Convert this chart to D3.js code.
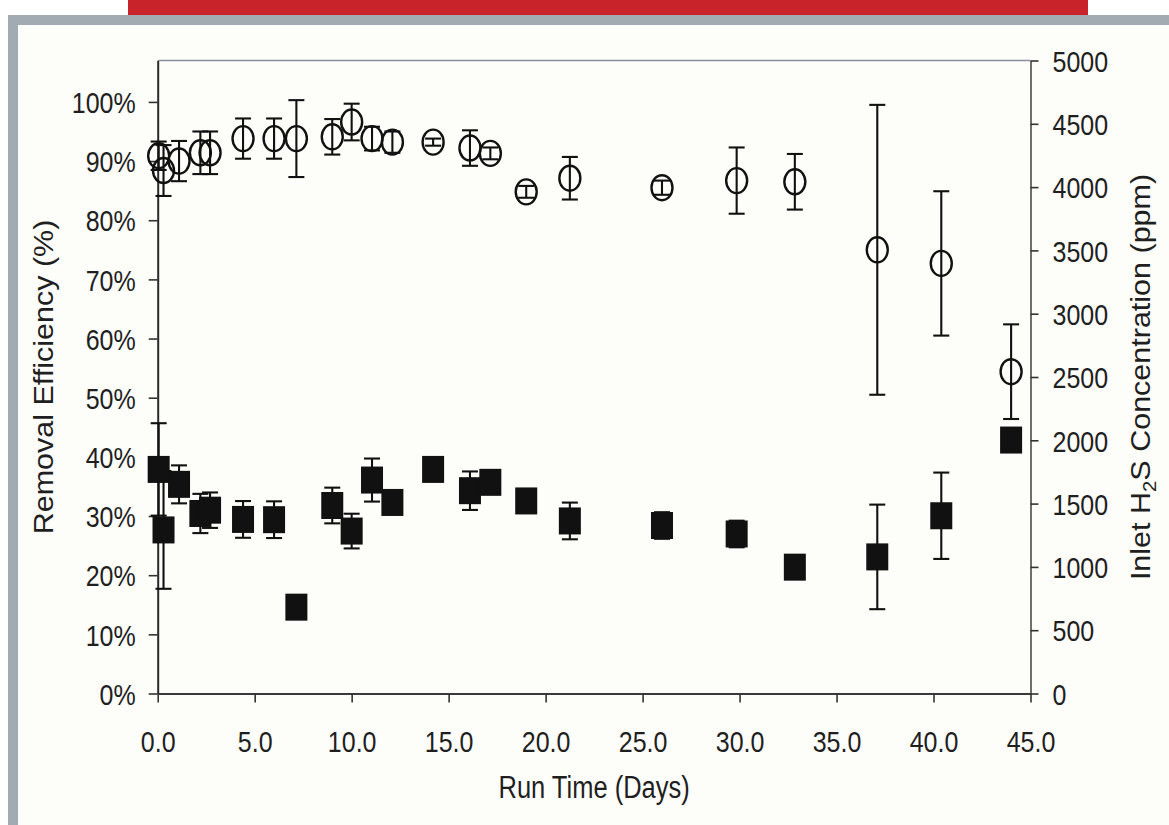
<!DOCTYPE html>
<html><head><meta charset="utf-8">
<script src="https://cdn.jsdelivr.net/npm/d3@7"></script>
<style>
html,body{margin:0;padding:0;background:#fff;}
svg{display:block;}
</style></head>
<body>
<svg id="chart" width="1169" height="825"></svg>
<script>
// ---- data ----
const days = [0.05, 0.3, 1.1, 2.2, 2.7, 4.4, 6.0, 7.15, 9.0, 10.0, 11.05, 12.1, 14.2, 16.1, 17.15, 19.0, 21.25, 26.0, 29.85, 32.85, 37.1, 40.4, 44.0];
const efficiency = [90.9, 88.4, 90.0, 91.4, 91.4, 93.8, 93.8, 93.8, 94.1, 96.6, 93.8, 93.2, 93.2, 92.2, 91.3, 84.8, 87.1, 85.5, 86.7, 86.5, 75.0, 72.7, 54.4];
const efficiencyErr = [2.4, 4.3, 3.4, 3.6, 3.6, 3.4, 3.4, 6.5, 3.0, 3.1, 2.0, 1.8, 0.6, 3.0, 1.0, 1.0, 3.6, 1.2, 5.6, 4.7, 24.5, 12.2, 8.0];
const h2s = [1770, 1292, 1652, 1422, 1448, 1375, 1373, 682, 1485, 1283, 1686, 1509, 1770, 1602, 1668, 1521, 1363, 1327, 1260, 998, 1079, 1404, 2002];
const h2sErr = [365, 465, 150, 155, 140, 145, 145, 0, 141, 137, 170, 0, 90, 152, 0, 0, 145, 105, 105, 0, 413, 341, 0];
const xTicks = [0, 5, 10, 15, 20, 25, 30, 35, 40, 45];
const leftTicks = [0, 10, 20, 30, 40, 50, 60, 70, 80, 90, 100];
const rightTicks = [0, 500, 1000, 1500, 2000, 2500, 3000, 3500, 4000, 4500, 5000];
const xTitle = "Run Time (Days)";
const leftTitle = "Removal Efficiency (%)";

// ---- page frame ----
const svg = d3.select("#chart");
svg.append("rect").attr("x",0).attr("y",0).attr("width",1169).attr("height",825).attr("fill","#ffffff");
svg.append("rect").attr("x",128).attr("y",0).attr("width",960).attr("height",15).attr("fill","#c8222b");
svg.append("rect").attr("x",8).attr("y",15).attr("width",1161).attr("height",810).attr("fill","#a3abb2");
svg.append("rect").attr("x",18).attr("y",25).attr("width",1151).attr("height",800).attr("fill","#fdfdf9");

const L = 157.7, R = 1030.5, T = 60.5, B = 693.5;
const x = d3.scaleLinear().domain([0, 45]).range([L, R]);
const yL = d3.scaleLinear().domain([0, 107]).range([B, T]);
const yR = d3.scaleLinear().domain([0, 5000]).range([B, T]);

const FONT = "'Liberation Sans', Arial, Helvetica, sans-serif";
const TXT = "#1f1f1f";
const fs = 25, sy = 1.2;

function styleTicks(g, anchor, dx, dy) {
  g.selectAll(".tick text")
    .attr("x", null).attr("y", null).attr("dy", null)
    .attr("text-anchor", anchor)
    .attr("transform", `translate(${dx},${dy}) scale(1,${sy})`)
    .attr("font-size", fs).attr("font-family", FONT).attr("fill", TXT);
  g.selectAll(".tick line").attr("stroke", "#333").attr("stroke-width", 1.6);
}

// top border
svg.append("line").attr("x1", L).attr("x2", R).attr("y1", T).attr("y2", T)
  .attr("stroke", "#8a90a0").attr("stroke-width", 1.6);

// bottom axis
const gx = svg.append("g").attr("transform", `translate(0,${B})`)
  .call(d3.axisBottom(x).tickValues(xTicks).tickSize(9).tickSizeOuter(0).tickFormat(d3.format(".1f")));
gx.select(".domain").attr("stroke", "#3a3a3a").attr("stroke-width", 2);
styleTicks(gx, "middle", 0, 58);

// left axis
const gl = svg.append("g").attr("transform", `translate(${L},0)`)
  .call(d3.axisLeft(yL).tickValues(leftTicks).tickSize(9).tickSizeOuter(0).tickFormat(d => d + "%"));
gl.select(".domain").attr("stroke", "#2a2a2a").attr("stroke-width", 2);
styleTicks(gl, "end", -22, 10.7);

// right axis
const gr = svg.append("g").attr("transform", `translate(${R},0)`)
  .call(d3.axisRight(yR).tickValues(rightTicks).tickSize(8).tickSizeOuter(0).tickFormat(d3.format("d")));
gr.select(".domain").attr("stroke", "#4a4a4a").attr("stroke-width", 1.6);
styleTicks(gr, "start", 22, 10.7);

// titles
svg.append("text").text(xTitle)
  .attr("transform", `translate(${(L + R) / 2},798) scale(1,${sy})`)
  .attr("text-anchor", "middle").attr("font-size", 25.5).attr("font-family", FONT).attr("fill", TXT);

svg.append("text").text(leftTitle)
  .attr("transform", `translate(53,${(T + B) / 2}) rotate(-90) scale(1.13,1)`)
  .attr("text-anchor", "middle").attr("font-size", 27).attr("font-family", FONT).attr("fill", TXT);

const rt = svg.append("text")
  .attr("transform", `translate(1150,${(T + B) / 2}) rotate(-90) scale(1.13,1)`)
  .attr("text-anchor", "middle").attr("font-size", 27).attr("font-family", FONT).attr("fill", TXT);
rt.append("tspan").text("Inlet H");
rt.append("tspan").text("2").attr("font-size", 18).attr("dy", 6);
rt.append("tspan").text("S Concentration (ppm)").attr("dy", -6);

// ---- data marks ----
const INK = "#111111";
const cap = 8;
const eff = days.map((d, i) => ({d, v: efficiency[i], e: efficiencyErr[i]}));
const conc = days.map((d, i) => ({d, v: h2s[i], e: h2sErr[i]}));

function errorBars(data, y) {
  const g = svg.append("g").attr("stroke", INK).attr("stroke-width", 2.1).attr("fill", "none");
  g.selectAll(".v").data(data).join("line")
    .attr("x1", p => x(p.d)).attr("x2", p => x(p.d))
    .attr("y1", p => y(p.v + p.e)).attr("y2", p => y(p.v - p.e));
  g.selectAll(".t").data(data).join("line").attr("class", "t")
    .attr("x1", p => x(p.d) - cap).attr("x2", p => x(p.d) + cap)
    .attr("y1", p => y(p.v + p.e)).attr("y2", p => y(p.v + p.e));
  g.selectAll(".b").data(data).join("line").attr("class", "b")
    .attr("x1", p => x(p.d) - cap).attr("x2", p => x(p.d) + cap)
    .attr("y1", p => y(p.v - p.e)).attr("y2", p => y(p.v - p.e));
}

errorBars(conc, yR);
svg.append("g").selectAll("rect").data(conc).join("rect")
  .attr("x", p => x(p.d) - 11).attr("y", p => yR(p.v) - 13.5)
  .attr("width", 22).attr("height", 27).attr("fill", INK);

errorBars(eff, yL);
svg.append("g").selectAll("ellipse").data(eff).join("ellipse")
  .attr("cx", p => x(p.d)).attr("cy", p => yL(p.v))
  .attr("rx", 10.5).attr("ry", 12.5)
  .attr("fill", "none").attr("stroke", INK).attr("stroke-width", 2.4);
</script>
</body></html>
